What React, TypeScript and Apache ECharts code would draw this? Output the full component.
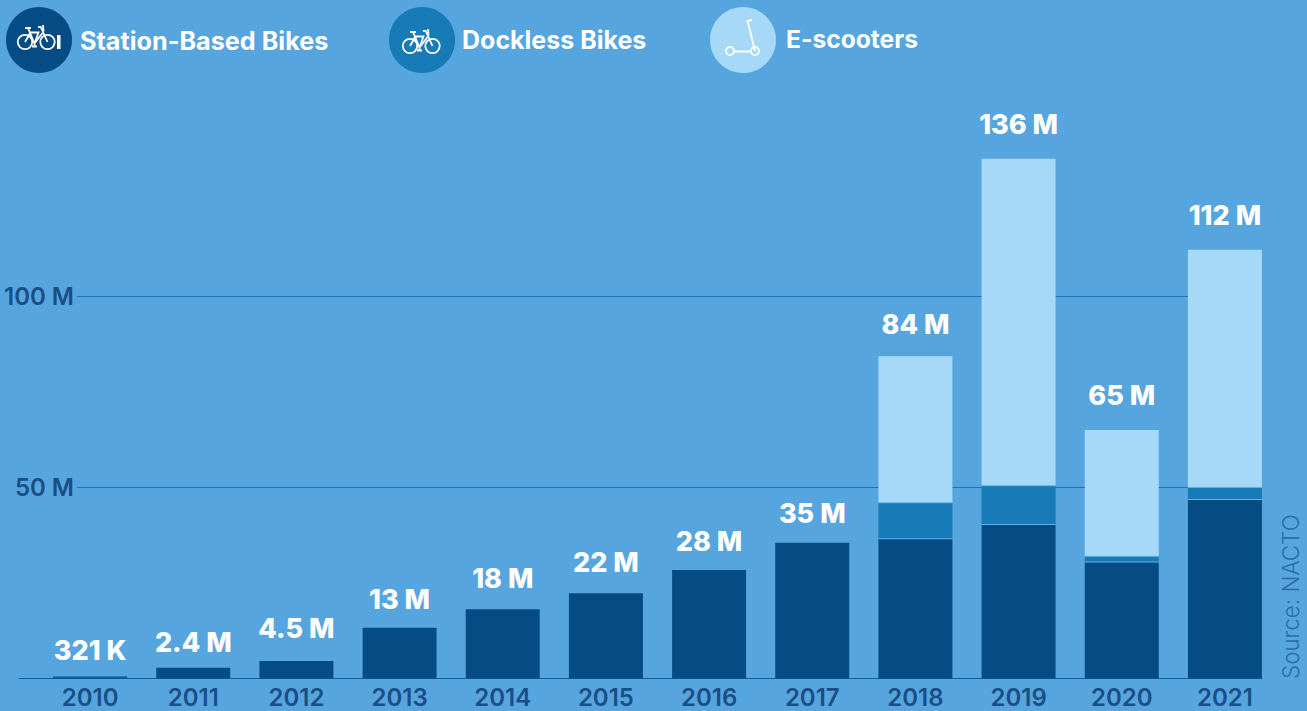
import React, { useEffect, useRef } from "react";
import * as echarts from "echarts";

const years = ["2010","2011","2012","2013","2014","2015","2016","2017","2018","2019","2020","2021"];
const stationBased = [0.321,2.8,4.6,13.3,18.2,22.4,28.5,35.6,36.7,40.4,30.6,47.0];
const dockless = [0,0,0,0,0,0,0,0,9.4,10.2,1.5,3.1];
const scooters = [0,0,0,0,0,0,0,0,38.5,85.8,33.1,62.4];
const totalLabels = ["321 K","2.4 M","4.5 M","13 M","18 M","22 M","28 M","35 M","84 M","136 M","65 M","112 M"];
const yTicks = [50,100];

const labelGaps = [13,11,18,14,17,17,14,15,18,20,21,20];
const BG = "#57a5de";
const DARK = "#054c85";
const MID = "#167bb7";
const LIGHT = "#a6d8f7";
const SEAM = "#66aee3";
const AXIS_TEXT = "#1a4f86";
const FONT = "Inter";
const H = 711, W = 1307;
const BOTTOM = H - 678.5;
const TOP = 678.5 - 160 * 3.81;
const TOP_LINES = 678.5 - 160 * 3.82;
const BAR_W = 74;

const wheel = (cx: number, cy: number, r: number) =>
  `M${cx - r} ${cy}A${r} ${r} 0 1 1 ${cx + r} ${cy}A${r} ${r} 0 1 1 ${cx - r} ${cy}Z`;
const bikePath =
  wheel(0, 0, 7.2) + wheel(22.5, 0, 7.2) +
  "M0 0L5.5 -9.5L13.5 -9.5L9.5 1.5L3 -14M0 -14L6 -14M9.5 1.5L9.5 4M7 4.5L12 4.5" +
  "M22.5 0L15.5 -15.5M13 -15L16 -15M18 -17L18.5 -10.5M9.5 1.5L17.5 -9";
const scooterPath =
  wheel(0, 0, 4) + wheel(25, 0, 4) +
  "M4 0.5L20 0.5M25 0L17.5 -30L22 -31";
echarts.graphic.registerShape("bikeIcon", echarts.graphic.extendPath(bikePath, {}));
echarts.graphic.registerShape("scooterIcon", echarts.graphic.extendPath(scooterPath, {}));

const iconStyle = { fill: "none", stroke: "#ffffff", lineWidth: 1.8 };
const legendText = (x: number, y: number, text: string, size: number) => ({
  type: "text", x, y,
  style: { text, fill: "#ffffff", font: `700 ${size}px ${FONT}`, verticalAlign: "middle" },
});

export default function App() {
  const ref = useRef<HTMLDivElement>(null);
  useEffect(() => {
    document.body.style.margin = "0";
    const chart = echarts.init(ref.current!, null, { renderer: "svg" });
    const totals = years.map((_, i) => +(stationBased[i] + dockless[i] + scooters[i]).toFixed(3));
    const seams: number[][] = [];
    years.forEach((_, i) => {
      if (dockless[i] > 0) {
        seams.push([i, stationBased[i]]);
        seams.push([i, stationBased[i] + dockless[i]]);
      }
    });
    chart.setOption({
      animation: false,
      backgroundColor: BG,
      grid: [
        { left: 38.5, right: W - 1276.5, top: TOP, bottom: BOTTOM },
        { left: 77, right: W - 1188, top: TOP_LINES, bottom: BOTTOM },
        { left: 19, right: W - 1262, top: TOP, bottom: BOTTOM },
      ],
      xAxis: [
        {
          type: "category", gridIndex: 0, data: years,
          axisLine: { show: false }, axisTick: { show: false },
          axisLabel: { color: AXIS_TEXT, fontFamily: FONT, fontWeight: 600, fontSize: 24, margin: 7, interval: 0 },
        },
        { type: "value", gridIndex: 1, show: false },
        {
          type: "category", gridIndex: 2, data: years,
          axisLine: { show: true, lineStyle: { color: "#0d5fa0", width: 1 } },
          axisTick: { show: false }, axisLabel: { show: false },
        },
      ],
      yAxis: [
        { type: "value", gridIndex: 0, min: 0, max: 160, show: false },
        {
          type: "value", gridIndex: 1, min: 0, max: 160,
          axisLine: { show: false },
          axisTick: { show: false, customValues: yTicks },
          splitLine: { show: true, lineStyle: { color: "#1c74b5", width: 1 } },
          axisLabel: {
            customValues: yTicks, color: AXIS_TEXT, fontFamily: FONT, fontWeight: 600, fontSize: 24, margin: 3,
            padding: [0, 0, 5, 0],
            formatter: (v: number) => `${v} M`,
          },
        },
        { type: "value", gridIndex: 2, min: 0, max: 160, show: false },
      ],
      series: [
        {
          name: "Station-Based Bikes", type: "bar", stack: "t", barWidth: BAR_W, barMinHeight: 2,
          data: stationBased.map((value, i) => (i === 0 ? { value, itemStyle: { color: "#0a5a9e" } } : value)),
          itemStyle: { color: DARK },
        },
        { name: "Dockless Bikes", type: "bar", stack: "t", barWidth: BAR_W, data: dockless, itemStyle: { color: MID } },
        { name: "E-scooters", type: "bar", stack: "t", barWidth: BAR_W, data: scooters, itemStyle: { color: LIGHT } },
        {
          name: "seams", type: "custom", data: seams, z: 3, silent: true,
          renderItem: (_: any, api: any) => {
            const p = api.coord([api.value(0), api.value(1)]);
            return { type: "rect", shape: { x: p[0] - BAR_W / 2, y: p[1] - 0.5, width: BAR_W, height: 1 }, style: { fill: SEAM } };
          },
        },
        {
          name: "Totals", type: "scatter", symbolSize: 1, z: 4,
          data: totals.map((value, i) => ({ value, label: { distance: labelGaps[i] } })),
          itemStyle: { color: "rgba(0,0,0,0)", opacity: 1 }, silent: true,
          label: {
            show: true, position: "top", color: "#ffffff",
            fontFamily: FONT, fontWeight: 800, fontSize: 27,
            formatter: (p: any) => totalLabels[p.dataIndex],
          },
        },
      ],
      graphic: [
        { type: "ellipse", shape: { cx: 39, cy: 40, rx: 33, ry: 33 }, style: { fill: DARK } },
        { type: "bikeIcon", x: 25, y: 42, style: iconStyle },
        { type: "rect", shape: { x: 57, y: 35, width: 3.5, height: 14 }, style: { fill: "#ffffff" } },
        legendText(80, 41, "Station-Based Bikes", 25.2),
        { type: "ellipse", shape: { cx: 422, cy: 40, rx: 33, ry: 33 }, style: { fill: MID } },
        { type: "bikeIcon", x: 410, y: 46, style: iconStyle },
        legendText(462, 40, "Dockless Bikes", 25),
        { type: "ellipse", shape: { cx: 743, cy: 40, rx: 33, ry: 33 }, style: { fill: LIGHT } },
        { type: "scooterIcon", x: 730, y: 51, style: iconStyle },
        legendText(786, 39, "E-scooters", 24.6),
        {
          type: "text", x: 1290, y: 679, rotation: Math.PI / 2,
          style: { text: "Source: NACTO", fill: "#2a6ca6", font: `300 22.4px ${FONT}`, verticalAlign: "middle", align: "left" },
        },
      ],
    });
    return () => chart.dispose();
  }, []);
  return <div ref={ref} style={{ width: W, height: H }} />;
}
